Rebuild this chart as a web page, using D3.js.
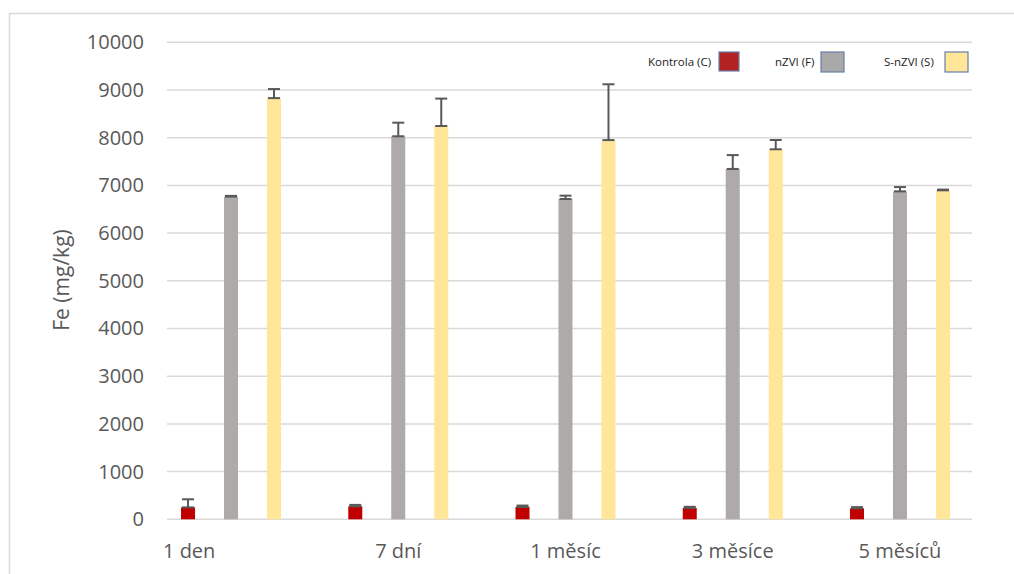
<!DOCTYPE html>
<html>
<head>
<meta charset="utf-8">
<script src="https://cdn.jsdelivr.net/npm/d3@7"></script>
<style>
  body { margin: 0; background: #fff; }
  text { font-family: "Open Sans", sans-serif; }
</style>
</head>
<body>
<svg id="vis" width="1014" height="574"></svg>
<script>
// Data
const kategorie = ["1 den", "7 dní", "1 měsíc", "3 měsíce", "5 měsíců"];
const serie = ["Kontrola (C)", "nZVI (F)", "S-nZVI (S)"];
const kontrola = [250, 272, 258, 237, 230];
const kontrolaErr = [170, 30, 30, 25, 25];
const nzvi = [6765, 8030, 6715, 7345, 6875];
const nzviErr = [15, 285, 70, 290, 90];
const snzvi = [8830, 8245, 7950, 7757, 6897];
const snzviErr = [190, 575, 1170, 195, 15];
const yTicks = [0, 1000, 2000, 3000, 4000, 5000, 6000, 7000, 8000, 9000, 10000];

const barvy = ["#c00000", "#aeaaaa", "#ffe699"];
const hodnoty = [kontrola, nzvi, snzvi];
const chyby = [kontrolaErr, nzviErr, snzviErr];

const SVG = d3.select("#vis");

// Frame
SVG.append("path")
  .attr("d", "M9.5,574 V13.5 H1014")
  .attr("fill", "none")
  .attr("stroke", "#d9d9d9")
  .attr("stroke-width", 1.5);

// Scales
const y = d3.scaleLinear().domain([0, 10000]).range([519.3, 42.3]);
const x = d3.scaleBand().domain(kategorie).range([147.4, 983.6]);
const bw = x.bandwidth();
const xs = d3.scaleBand().domain(serie)
  .range([bw / 2 - 50, bw / 2 + 50])
  .paddingInner(0.674).paddingOuter(0);

// Gridlines
SVG.append("g").selectAll("line")
  .data(yTicks)
  .join("line")
  .attr("x1", 167).attr("x2", 972)
  .attr("y1", d => y(d)).attr("y2", d => y(d))
  .attr("stroke", "#d9d9d9")
  .attr("stroke-width", 1.5);

// Y axis labels
const yAxis = SVG.append("g")
  .attr("transform", "translate(144,0)")
  .call(d3.axisLeft(y).tickValues(yTicks).tickSize(0).tickPadding(0).tickFormat(d3.format("d")));
yAxis.select(".domain").remove();
yAxis.selectAll("text")
  .attr("font-size", 20)
  .attr("fill", "#595959")
  .attr("font-family", "Open Sans, sans-serif");

// Y title
SVG.append("text")
  .attr("transform", "translate(69,280) rotate(-90)")
  .attr("text-anchor", "middle")
  .attr("font-size", 21)
  .attr("fill", "#595959")
  .text("Fe (mg/kg)");

// Bars + error bars
const skupiny = SVG.append("g").selectAll(".skupina")
  .data(kategorie)
  .join("g")
  .attr("class", "skupina")
  .attr("transform", d => `translate(${x(d)},0)`);

serie.forEach((s, si) => {
  skupiny.append("rect")
    .attr("x", xs(s))
    .attr("width", xs.bandwidth())
    .attr("y", (d, i) => y(hodnoty[si][i]))
    .attr("height", (d, i) => y(0) - y(hodnoty[si][i]))
    .attr("fill", barvy[si]);
});

serie.forEach((s, si) => {
  const cx = xs(s) + xs.bandwidth() / 2;
  const eb = skupiny.append("g").attr("stroke", "#595959").attr("stroke-width", 2);
  eb.append("line")
    .attr("x1", cx).attr("x2", cx)
    .attr("y1", (d, i) => y(hodnoty[si][i]))
    .attr("y2", (d, i) => y(hodnoty[si][i] + chyby[si][i]));
  eb.append("line")
    .attr("x1", cx - 6).attr("x2", cx + 6)
    .attr("y1", (d, i) => y(hodnoty[si][i]))
    .attr("y2", (d, i) => y(hodnoty[si][i]));
  eb.append("line")
    .attr("x1", cx - 6).attr("x2", cx + 6)
    .attr("y1", (d, i) => y(hodnoty[si][i] + chyby[si][i]))
    .attr("y2", (d, i) => y(hodnoty[si][i] + chyby[si][i]));
});

// X labels (first one sits at the left edge of the plot, like in the original)
SVG.append("g").selectAll("text")
  .data(kategorie)
  .join("text")
  .attr("y", 558)
  .attr("font-size", 20)
  .attr("fill", "#595959")
  .attr("text-anchor", (d, i) => i === 0 ? "start" : "middle")
  .attr("x", (d, i) => i === 0 ? 163 : x(d) + bw / 2)
  .text(d => d);

// Legend
const legenda = SVG.append("g");
legenda.append("rect")
  .attr("x", 643).attr("y", 44).attr("width", 335).attr("height", 42)
  .attr("fill", "#fff");
const legPos = [[648, 719], [775, 821], [884, 945]];
serie.forEach((s, si) => {
  legenda.append("text")
    .attr("x", legPos[si][0]).attr("y", 66)
    .attr("font-size", 11.5)
    .attr("fill", "#222")
    .text(s);
  legenda.append("rect")
    .attr("x", legPos[si][1]).attr("y", 52)
    .attr("width", si === 0 ? 20 : 23).attr("height", si === 0 ? 19 : 20)
    .attr("fill", si === 0 ? "#b22222" : (si === 1 ? "#a9a9a9" : barvy[2]))
    .attr("stroke", "#6a7fa8")
    .attr("stroke-width", 1.2);
});
</script>
</body>
</html>
